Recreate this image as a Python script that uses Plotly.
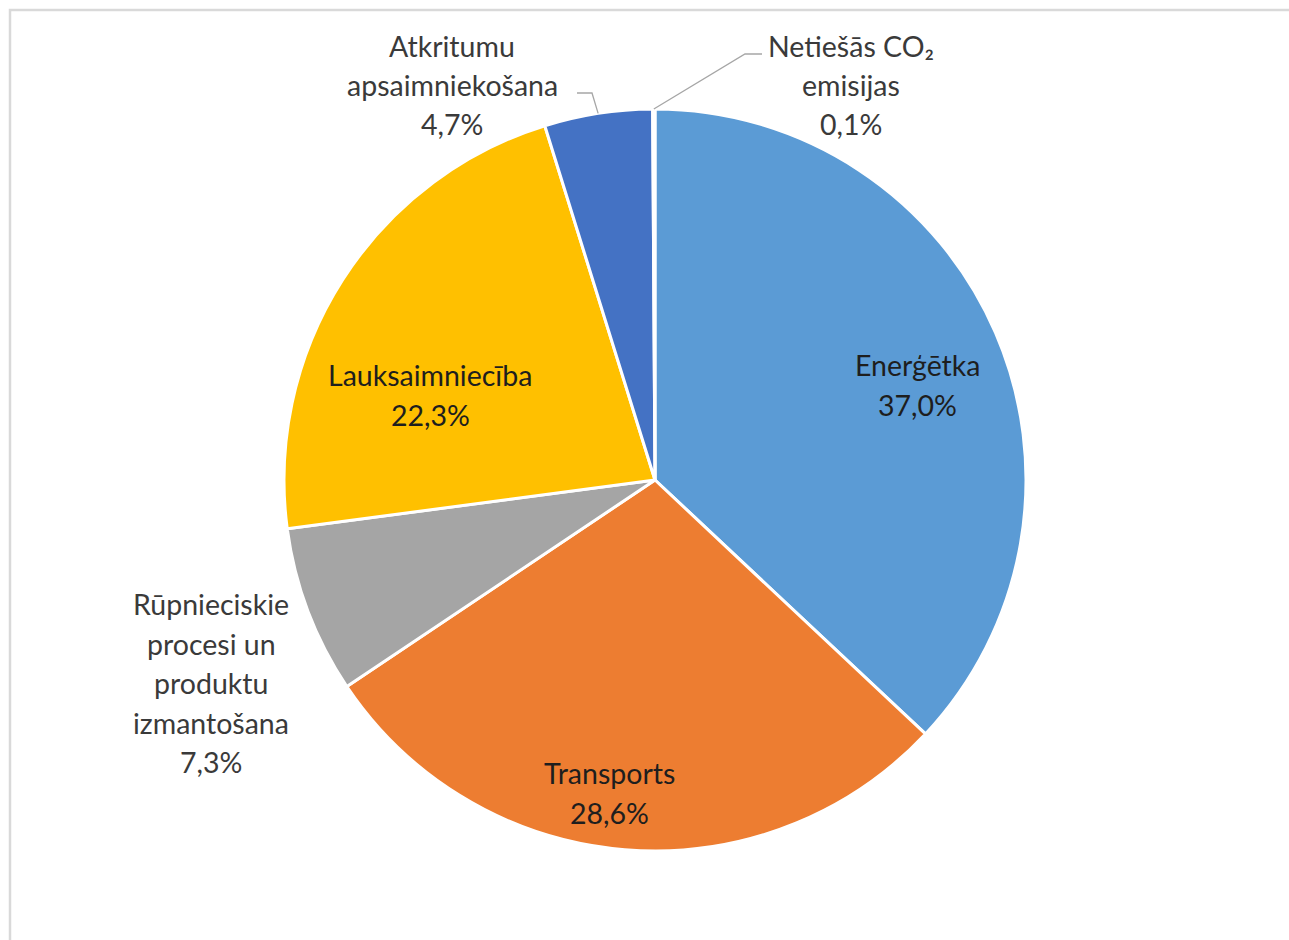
import math
import plotly.graph_objects as go

# Emission shares by sector (%)
sectors = [
    "Enerģētka",
    "Transports",
    "Rūpnieciskie procesi un produktu izmantošana",
    "Lauksaimniecība",
    "Atkritumu apsaimniekošana",
    "Netiešās CO₂ emisijas",
]
shares = [37.0, 28.6, 7.3, 22.3, 4.7, 0.1]

# Label text lines (category lines, the percentage line is appended)
label_lines = [
    ["Enerģētka"],
    ["Transports"],
    ["Rūpnieciskie", "procesi un", "produktu", "izmantošana"],
    ["Lauksaimniecība"],
    ["Atkritumu", "apsaimniekošana"],
    ["Netiešās CO₂", "emisijas"],
]

colors = ["#5B9BD5", "#ED7D31", "#A5A5A5", "#FFC000", "#4472C4", "#FFFFFF"]

W, H = 1289, 940
CX, CY, R = 655, 480, 371          # pie centre and radius in pixels
LINE_H = 39.5                       # label line spacing in pixels
FONT = "Lato, 'Open Sans', sans-serif"
FONT_SIZE = 28.5

# Label block centres in pixels, and whether the label sits outside the pie
label_centres = [(917, 385), (609, 793), (211, 683), (430, 395), (452, 85), (851, 85)]
outside = [False, False, True, False, True, True]
# Elbow of the leader line for outside labels that use one: (elbow, end)
leaders = {4: ((592, 93), (577, 93)), 5: ((745, 54), (762, 54))}


def px(x):
    return x / W


def py(y):
    return 1 - y / H


fig = go.Figure(
    go.Pie(
        labels=sectors,
        values=shares,
        sort=False,
        direction="clockwise",
        rotation=0,
        marker=dict(colors=colors, line=dict(color="#FFFFFF", width=3)),
        textinfo="none",
        hoverinfo="label+percent",
        domain=dict(x=[px(CX - R), px(CX + R)], y=[py(CY + R), py(CY - R)]),
        showlegend=False,
    )
)

total = sum(shares)
annotations = []
shapes = []
cum = 0.0
for i, (v, lines) in enumerate(zip(shares, label_lines)):
    mid = (cum + v / 2) / total * 2 * math.pi
    cum += v
    text_lines = lines + [f"{v:.1f}%".replace(".", ",")]
    cx, cy = label_centres[i]
    n = len(text_lines)
    col = "#3A3A3A" if outside[i] else "#1E1E1E"
    for j, t in enumerate(text_lines):
        yy = cy + (j - (n - 1) / 2) * LINE_H
        annotations.append(
            dict(
                x=px(cx), y=py(yy), xref="paper", yref="paper",
                text=t, showarrow=False, xanchor="center", yanchor="middle",
                font=dict(family=FONT, size=FONT_SIZE, color=col),
            )
        )
    if i in leaders:
        ex = CX + R * math.sin(mid)
        ey = CY - R * math.cos(mid)
        (bx, by), (tx, ty) = leaders[i]
        shapes.append(
            dict(
                type="path", xref="paper", yref="paper",
                path=f"M {px(ex)},{py(ey)} L {px(bx)},{py(by)} L {px(tx)},{py(ty)}",
                line=dict(color="#A6A6A6", width=1.3),
            )
        )

# Chart area frame
shapes.append(
    dict(
        type="rect", xref="paper", yref="paper",
        x0=px(10), y0=-0.02, x1=1.02, y1=py(10),
        line=dict(color="#D9D9D9", width=2.5), fillcolor="rgba(0,0,0,0)",
        layer="below",
    )
)

fig.update_layout(
    width=W, height=H,
    margin=dict(l=0, r=0, t=0, b=0),
    paper_bgcolor="#FFFFFF",
    plot_bgcolor="#FFFFFF",
    annotations=annotations,
    shapes=shapes,
)

fig.write_html("out.html")
